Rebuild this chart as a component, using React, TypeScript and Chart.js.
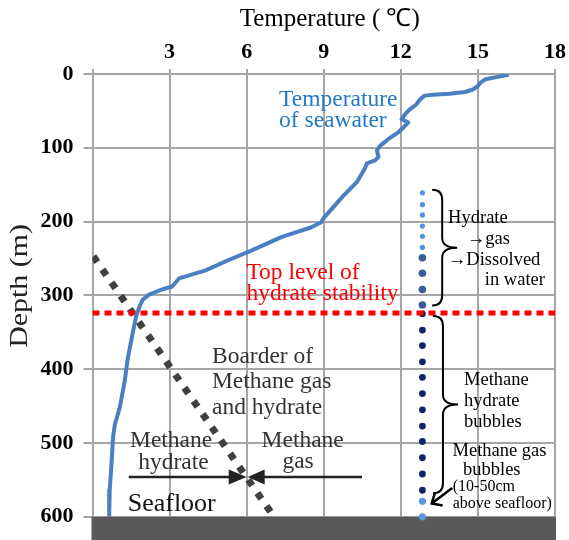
import React, { useEffect, useRef } from "react";
import { Chart, registerables } from "chart.js";

Chart.register(...registerables);

// Seawater temperature profile (°C vs depth m)
const tempC = [16.2, 15.82, 15.3, 15.1, 14.98, 14.8, 14.5, 13.9, 13.25, 12.93, 12.74, 12.6, 12.35, 12.16, 12.03, 12.29, 12.1, 11.9, 11.52, 11.2, 11.07, 11.13, 11.0, 10.68, 10.6, 10.3, 9.79, 9.46, 9.0, 8.9, 8.5, 7.7, 7.35, 6.2, 5.3, 4.4, 3.37, 3.1, 2.7, 2.2, 1.95, 1.83, 1.7, 1.57, 1.37, 1.25, 1.06, 0.87, 0.8, 0.74, 0.67, 0.65];
const depthM = [1, 3.6, 7, 11.6, 17, 21, 24.4, 26.7, 28, 29.3, 34.7, 41.3, 48, 54.7, 61.3, 65.8, 72.4, 79, 88, 97, 103.6, 112.4, 117, 121, 128, 146, 164, 177, 195, 201, 208, 217, 221, 239, 252, 266, 277, 288, 292, 299, 306, 315, 328, 350, 386, 417, 452, 475, 492, 528, 564, 600];

// Top level of hydrate stability (m)
const stabilityDepth = 324;
// Border between methane gas and hydrate: [temperature, depth] end points
const borderTemp = [0.03, 7.0];
const borderDepth = [247, 597];

// Bubble column
const bubbleTemp = 12.84;
const gasDissolvingDepths = [161, 177, 191, 206, 220, 235];
const dissolvedDepths = [249, 270, 292, 313];
const hydrateBubbleDepths = [325, 347, 368, 390, 411, 433, 455, 477, 498, 520, 542, 564];
const gasBubbleDepths = [579, 600];

const xTicks = [0, 3, 6, 9, 12, 15, 18];
const yTicks = [0, 100, 200, 300, 400, 500, 600];

const SERIF = "'Liberation Serif', 'Times New Roman', serif";

type Txt = { t: string; x: number; y: number; size: number; color: string; align: CanvasTextAlign };

const labels: Txt[] = [
  { t: "Temperature", x: 7.26, y: 34.7, size: 23.5, color: "#2479c9", align: "left" },
  { t: "of seawater", x: 7.26, y: 64, size: 23.5, color: "#2479c9", align: "left" },
  { t: "Top level of", x: 5.99, y: 269.3, size: 23.5, color: "#ff0000", align: "left" },
  { t: "hydrate stability", x: 5.99, y: 297.3, size: 23.5, color: "#ff0000", align: "left" },
  { t: "Boarder of", x: 4.65, y: 383.3, size: 23.5, color: "#333333", align: "left" },
  { t: "Methane gas", x: 4.65, y: 416.7, size: 23.5, color: "#333333", align: "left" },
  { t: "and hydrate", x: 4.65, y: 452, size: 23.5, color: "#333333", align: "left" },
  { t: "Methane", x: 3.06, y: 497.3, size: 23.5, color: "#333333", align: "center" },
  { t: "hydrate", x: 3.15, y: 526.7, size: 23.5, color: "#333333", align: "center" },
  { t: "Methane", x: 8.18, y: 497.3, size: 23.5, color: "#333333", align: "center" },
  { t: "gas", x: 8.0, y: 525.3, size: 23.5, color: "#333333", align: "center" },
  { t: "Seafloor", x: 1.37, y: 582.7, size: 26, color: "#111111", align: "left" },
  { t: "Hydrate", x: 13.84, y: 194.7, size: 18.5, color: "#000000", align: "left" },
  { t: "\u2192gas", x: 14.57, y: 223.6, size: 18.5, color: "#000000", align: "left" },
  { t: "\u2192Dissolved", x: 13.83, y: 252, size: 18.5, color: "#000000", align: "left" },
  { t: "in water", x: 15.27, y: 280, size: 18.5, color: "#000000", align: "left" },
  { t: "Methane", x: 14.46, y: 414.7, size: 18.5, color: "#000000", align: "left" },
  { t: "hydrate", x: 14.46, y: 443.6, size: 18.5, color: "#000000", align: "left" },
  { t: "bubbles", x: 14.46, y: 472, size: 18.5, color: "#000000", align: "left" },
  { t: "Methane gas", x: 15.84, y: 511.6, size: 18.5, color: "#000000", align: "center" },
  { t: "bubbles", x: 15.54, y: 537.3, size: 18.5, color: "#000000", align: "center" },
  { t: "(10-50cm", x: 14.02, y: 560, size: 16, color: "#000000", align: "left" },
  { t: "above seafloor)", x: 14.02, y: 582.3, size: 16, color: "#000000", align: "left" },
];

// Curly braces: left x (°C), top/bottom depth (m)
const braces = [
  { x: 13.22, top: 157, bottom: 313.6 },
  { x: 13.25, top: 328, bottom: 568 },
];

const decorations = {
  id: "decorations",
  beforeDatasetsDraw(chart: any) {
    const { ctx, scales } = chart;
    const xs = scales.x;
    const ys = scales.y;
    // seafloor band below 600 m
    ctx.save();
    ctx.fillStyle = "#595959";
    const left = xs.getPixelForValue(0) - 1;
    const right = xs.getPixelForValue(18) + 1;
    const top = ys.getPixelForValue(600);
    ctx.fillRect(left, top, right - left, chart.height - top);
    ctx.restore();
  },
  afterDatasetsDraw(chart: any) {
    const { ctx, scales } = chart;
    const xs = scales.x;
    const ys = scales.y;
    const px = (v: number) => xs.getPixelForValue(v);
    const py = (v: number) => ys.getPixelForValue(v);
    ctx.save();

    // axis titles
    ctx.fillStyle = "#000";
    ctx.textAlign = "center";
    ctx.textBaseline = "middle";
    ctx.font = `25px ${SERIF}`;
    ctx.fillText("Temperature ( \u2103)", (xs.left + xs.right) / 2 + 6, 19);
    ctx.save();
    ctx.translate(20.5, 286);
    ctx.rotate(-Math.PI / 2);
    ctx.scale(1.15, 1);
    ctx.fillStyle = "#222";
    ctx.font = `26px ${SERIF}`;
    ctx.fillText("Depth (m)", 0, 0);
    ctx.restore();

    // text labels
    for (const l of labels) {
      ctx.font = `${l.size}px ${SERIF}`;
      ctx.fillStyle = l.color;
      ctx.textAlign = l.align;
      ctx.textBaseline = "middle";
      ctx.fillText(l.t, px(l.x), py(l.y));
    }

    // braces
    ctx.strokeStyle = "#000";
    ctx.lineWidth = 2;
    for (const b of braces) {
      const x = px(b.x);
      const y1 = py(b.top);
      const y2 = py(b.bottom);
      const ym = (y1 + y2) / 2;
      const r = 10;
      const tip = 25;
      ctx.beginPath();
      ctx.moveTo(x, y1);
      ctx.quadraticCurveTo(x + r, y1, x + r, y1 + r);
      ctx.lineTo(x + r, ym - r);
      ctx.quadraticCurveTo(x + r, ym, x + tip, ym);
      ctx.quadraticCurveTo(x + r, ym, x + r, ym + r);
      ctx.lineTo(x + r, y2 - r);
      ctx.quadraticCurveTo(x + r, y2, x, y2);
      ctx.stroke();
    }

    // arrow pointing to the gas bubbles near the seafloor
    const ax0 = px(14.0), ay0 = py(561);
    const ax1 = px(13.2), ay1 = py(582);
    ctx.lineWidth = 2.5;
    ctx.beginPath();
    ctx.moveTo(ax0, ay0);
    ctx.lineTo(ax1, ay1);
    ctx.moveTo(ax1 + 3, ay1 - 10);
    ctx.lineTo(ax1, ay1);
    ctx.lineTo(ax1 + 11, ay1 + 2);
    ctx.stroke();

    // horizontal arrows meeting at the border line
    const meetT = 6.0;
    const arrowDepth = 546;
    const ay = py(arrowDepth);
    const mx = px(meetT);
    ctx.strokeStyle = "#222";
    ctx.fillStyle = "#222";
    ctx.lineWidth = 2.5;
    ctx.beginPath();
    ctx.moveTo(px(1.41), ay);
    ctx.lineTo(mx - 16, ay);
    ctx.moveTo(px(10.49), ay);
    ctx.lineTo(mx + 16, ay);
    ctx.stroke();
    ctx.beginPath();
    ctx.moveTo(mx, ay);
    ctx.lineTo(mx - 18, ay - 7.5);
    ctx.lineTo(mx - 18, ay + 7.5);
    ctx.closePath();
    ctx.fill();
    ctx.beginPath();
    ctx.moveTo(mx + 1, ay);
    ctx.lineTo(mx + 18, ay - 7.5);
    ctx.lineTo(mx + 18, ay + 7.5);
    ctx.closePath();
    ctx.fill();

    ctx.restore();
  },
};

const dots = (depths: number[]) => depths.map((d) => ({ x: bubbleTemp, y: d }));

export default function App() {
  const ref = useRef<HTMLCanvasElement>(null);

  useEffect(() => {
    if (!ref.current) return;
    const chart = new Chart(ref.current, {
      type: "scatter",
      data: {
        datasets: [
          {
            data: tempC.map((t, i) => ({ x: t, y: depthM[i] })),
            showLine: true,
            borderColor: "#4a7fc1",
            borderWidth: 4,
            pointRadius: 0,
            tension: 0,
            borderJoinStyle: "round",
          } as any,
          {
            data: [
              { x: 0, y: stabilityDepth },
              { x: 18, y: stabilityDepth },
            ],
            showLine: true,
            borderColor: "#ff0000",
            borderWidth: 5,
            borderDash: [7, 5],
            pointRadius: 0,
          } as any,
          {
            data: [
              { x: borderTemp[0], y: borderDepth[0] },
              { x: borderTemp[1], y: borderDepth[1] },
            ],
            showLine: true,
            borderColor: "#404040",
            borderWidth: 7,
            borderDash: [7, 9],
            pointRadius: 0,
          } as any,
          {
            data: dots(gasDissolvingDepths),
            pointRadius: 2.6,
            backgroundColor: "#5592d8",
            borderWidth: 0,
          } as any,
          {
            data: dots(dissolvedDepths),
            pointRadius: 3.8,
            backgroundColor: "#3a5e94",
            borderWidth: 0,
          } as any,
          {
            data: dots(hydrateBubbleDepths),
            pointRadius: 3.4,
            backgroundColor: "#0c2566",
            borderWidth: 0,
          } as any,
          {
            data: dots(gasBubbleDepths),
            pointRadius: 3.6,
            backgroundColor: "#5b95dd",
            borderWidth: 0,
            clip: false,
          } as any,
        ],
      },
      options: {
        responsive: false,
        animation: false,
        layout: { padding: { left: 0, top: 0, right: 9, bottom: 16 } },
        plugins: { legend: { display: false }, tooltip: { enabled: false } },
        scales: {
          x: {
            type: "linear",
            position: "top",
            min: 0,
            max: 18,
            afterBuildTicks: (s: any) => {
              s.ticks = xTicks.map((v) => ({ value: v }));
            },
            afterFit: (s: any) => {
              s.height = 74;
            },
            ticks: {
              callback: (v: any) => (v === 0 ? "" : String(v)),
              color: "#000",
              padding: 3,
              font: { family: SERIF, size: 22, weight: "bold" },
            },
            grid: { color: "#a6a6a6", lineWidth: 2, tickLength: 5 },
            border: { color: "#a6a6a6", width: 2 },
          },
          y: {
            type: "linear",
            reverse: true,
            min: 0,
            max: 600,
            afterBuildTicks: (s: any) => {
              s.ticks = yTicks.map((v) => ({ value: v }));
            },
            afterFit: (s: any) => {
              s.width = 92.5;
            },
            ticks: {
              color: "#000",
              padding: 10,
              font: { family: SERIF, size: 22, weight: "bold" },
            },
            grid: { color: "#a6a6a6", lineWidth: 2, tickLength: 9 },
            border: { color: "#a6a6a6", width: 2 },
          },
        },
      },
      plugins: [decorations],
    });
    return () => chart.destroy();
  }, []);

  return (
    <div style={{ position: "absolute", left: 0, top: 0, width: 569, height: 540, background: "#fff" }}>
      <canvas ref={ref} width={569} height={540} style={{ display: "block" }} />
    </div>
  );
}
